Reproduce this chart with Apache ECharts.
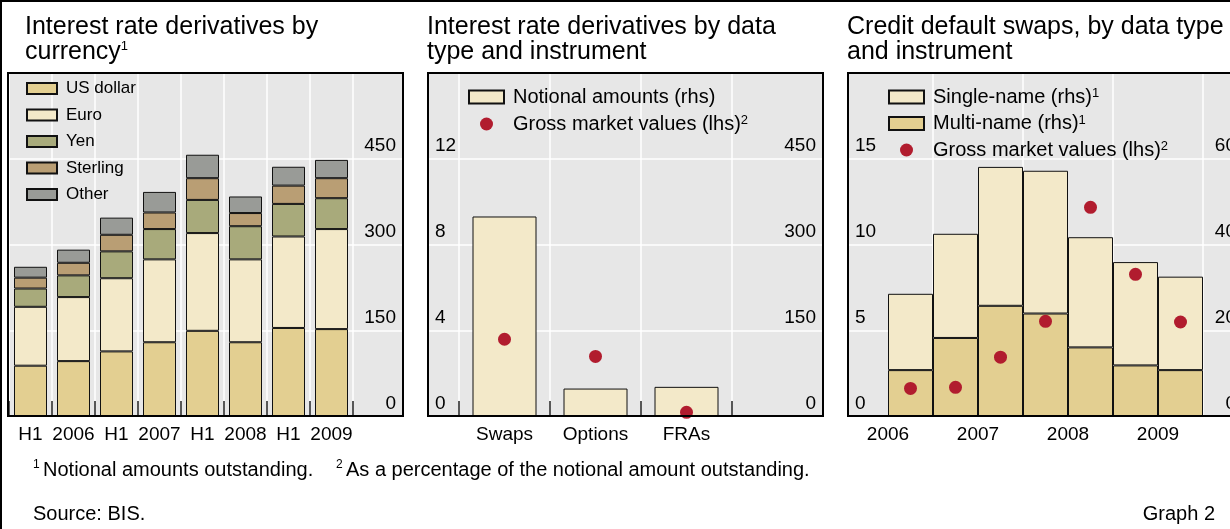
<!DOCTYPE html>
<html><head><meta charset="utf-8">
<script src="https://cdn.jsdelivr.net/npm/echarts@6/dist/echarts.min.js"></script>
<style>html,body{margin:0;padding:0;background:#fff}#c{width:1230px;height:529px}</style>
</head><body><div id="c"></div>
<script>
// ---- Panel A: interest rate derivatives by currency (notional, USD trn)
var catsA = ['H1 2006','H2 2006','H1 2007','H2 2007','H1 2008','H2 2008','H1 2009','H2 2009'];
var tickLabelsA = ['H1','2006','H1','2007','H1','2008','H1','2009'];
var usd      = [88, 96, 113, 129, 149, 129, 154, 152];
var euro     = [103, 112, 128, 145, 171, 145, 160, 175];
var yen      = [32, 38, 47, 53, 58, 58, 57, 54];
var sterling = [19, 22, 29, 29, 38, 23, 32, 35];
var other    = [19, 23, 30, 36, 41, 29, 33, 32];

// ---- Panel B: interest rate derivatives by data type and instrument
var catsB = ['Swaps','Options','FRAs'];
var notionalB = [349, 48, 51];
var gmvB = [3.58, 2.78, 0.17];

// ---- Panel C: credit default swaps
var catsC = ['H2 2006','H1 2007','H2 2007','H1 2008','H2 2008','H1 2009','H2 2009'];
var yearLabelsC = ['2006','','2007','','2008','','2009',''];
var multiC  = [10.7, 18.2, 25.7, 23.9, 16.0, 11.8, 10.7];
var singleC = [17.8, 24.3, 32.4, 33.3, 25.7, 24.1, 21.8];
var gmvC    = [1.61, 1.67, 3.43, 5.52, 12.17, 8.26, 5.48];

var FONT = 'Liberation Sans, Arial, sans-serif';
var BG = '#e7e7e7';
var C_USD = '#e3cf91', C_EUR = '#f3e9c9', C_YEN = '#a8aa7b', C_GBP = '#b99e74', C_OTH = '#999b97';
var RED = '#b11c2e';
var TICK = 19, TITLE = 25, FOOT = 20;

function frameGrid(left){ return {left:left, top:73, width:395, height:343, show:true, backgroundColor:BG, borderWidth:0, containLabel:false, outerBoundsMode:'none'}; }
function dataGrid(left,width){ return {left:left, top:73, width:width, height:343, show:false, containLabel:false, outerBoundsMode:'none'}; }
function hiddenX(g){ return {type:'value', gridIndex:g, show:false}; }
function labY(g, pos, max, itv, split){
  return {type:'value', gridIndex:g, position:pos, min:0, max:max, interval:itv,
    axisLine:{show:false}, axisTick:{show:false},
    splitLine:{show:split, lineStyle:{color:'#fff', width:1.5}},
    axisLabel:{inside:true, margin:7, color:'#000', fontFamily:FONT, fontSize:TICK, verticalAlign:'bottom', padding:[0,0,3,0],
      formatter:function(v){ return v>=max ? '' : String(v); }}};
}
function hidY(g, max){ return {type:'value', gridIndex:g, min:0, max:max, show:false}; }
function catX(g, data, labels, opts){
  var o = {type:'category', gridIndex:g, data:data, position:'bottom',
    axisLine:{show:false},
    axisTick:{show:true, inside:true, length:15, interval:0, lineStyle:{color:'#222', width:1.5}},
    splitLine:{show:true, interval:0, lineStyle:{color:'#fff', width:1.5}},
    axisLabel:{interval:0, margin:9, color:'#000', fontFamily:FONT, fontSize:TICK,
      formatter:function(v,i){ return labels ? labels[i] : v; }}};
  if (opts) for (var k in opts) o[k]=opts[k];
  return o;
}
function richLeg(size, lh, sup){
  return {t:{fontFamily:FONT, fontSize:size, color:'#000', lineHeight:lh, padding:[0,0,0,4]},
          s:{fontFamily:FONT, fontSize:sup, color:'#000', verticalAlign:'top', lineHeight:sup}};
}
function legFmt(sup){ return function(n){ var d=n.trim(); return sup[d] ? '{t|'+d+'}{s|'+sup[d]+'}' : '{t|'+d+'}'; }; }
var barBorder = {borderColor:'#111', borderWidth:1};
var richTitle = {t:{fontFamily:FONT,fontSize:TITLE,fontWeight:'normal',lineHeight:25,color:'#000'},
                 s:{fontFamily:FONT,fontSize:13,fontWeight:'normal',verticalAlign:'top',lineHeight:15,color:'#000'}};
function frameRect(left){ return {type:'rect', silent:true, z:100, shape:{x:left, y:73, width:395, height:343}, style:{fill:'none', stroke:'#000', lineWidth:2}}; }
var richFoot = {t:{fontFamily:FONT,fontSize:FOOT,lineHeight:22,fill:'#000'}, s:{fontFamily:FONT,fontSize:12,verticalAlign:'top',lineHeight:13,fill:'#000'}};

var option = {
  animation:false,
  textStyle:{fontFamily:FONT},
  title:[
    {left:25, top:15, padding:0, text:'{t|Interest rate derivatives by}\n{t|currency}{s|1}', textStyle:{fontWeight:'normal', rich:richTitle}},
    {left:427, top:15, padding:0, text:'{t|Interest rate derivatives by data}\n{t|type and instrument}', textStyle:{fontWeight:'normal', rich:richTitle}},
    {left:847, top:15, padding:0, text:'{t|Credit default swaps, by data type}\n{t|and instrument}', textStyle:{fontWeight:'normal', rich:richTitle}}
  ],
  grid:[frameGrid(8), dataGrid(9,344), frameGrid(428), dataGrid(459,273), frameGrid(848), dataGrid(888,315)],
  xAxis:[
    hiddenX(0),
    catX(1, catsA, tickLabelsA),
    hiddenX(2),
    catX(3, catsB, null),
    hiddenX(4),
    {type:'category', gridIndex:5, data:catsC, show:false},
    catX(5, yearLabelsC, null, {boundaryGap:false,
      axisTick:{show:false},
      splitLine:{show:true, interval:function(i){ return i%2===1; }, lineStyle:{color:'#fff', width:1.5}}})
  ],
  yAxis:[
    labY(0,'right',600,150,true),
    hidY(1,600),
    labY(2,'right',600,150,true),
    labY(2,'left',16,4,false),
    hidY(3,600),
    hidY(3,16),
    labY(4,'right',80,20,true),
    labY(4,'left',20,5,false),
    hidY(5,80),
    hidY(5,20)
  ],
  legend:[
    {left:26, top:80, padding:0, orient:'vertical', itemWidth:30, itemHeight:11, itemGap:9.5, icon:'rect',
      data:['US dollar','Euro','Yen','Sterling','Other'], selectedMode:false,
      formatter:legFmt({}), textStyle:{rich:richLeg(17,18,11)}},
    {left:468, top:87, padding:0, orient:'vertical', itemWidth:35, itemHeight:13, itemGap:7, selectedMode:false,
      data:[{name:'Notional amounts (rhs)', icon:'rect'},{name:'Gross market values (lhs)', icon:'circle'}],
      formatter:legFmt({'Gross market values (lhs)':'2'}), textStyle:{rich:richLeg(20,20,13)}},
    {left:888, top:87, padding:0, orient:'vertical', itemWidth:35, itemHeight:13, itemGap:6.5, selectedMode:false,
      data:[{name:'Single-name (rhs)', icon:'rect'},{name:'Multi-name (rhs)', icon:'rect'},{name:'Gross market values (lhs) ', icon:'circle'}],
      formatter:legFmt({'Single-name (rhs)':'1','Multi-name (rhs)':'1','Gross market values (lhs)':'2'}), textStyle:{rich:richLeg(20,20,13)}}
  ],
  series:[
    {name:'US dollar', type:'bar', stack:'a', xAxisIndex:1, yAxisIndex:1, barWidth:33, data:usd, itemStyle:Object.assign({color:C_USD},barBorder)},
    {name:'Euro', type:'bar', stack:'a', xAxisIndex:1, yAxisIndex:1, barWidth:33, data:euro, itemStyle:Object.assign({color:C_EUR},barBorder)},
    {name:'Yen', type:'bar', stack:'a', xAxisIndex:1, yAxisIndex:1, barWidth:33, data:yen, itemStyle:Object.assign({color:C_YEN},barBorder)},
    {name:'Sterling', type:'bar', stack:'a', xAxisIndex:1, yAxisIndex:1, barWidth:33, data:sterling, itemStyle:Object.assign({color:C_GBP},barBorder)},
    {name:'Other', type:'bar', stack:'a', xAxisIndex:1, yAxisIndex:1, barWidth:33, data:other, itemStyle:Object.assign({color:C_OTH},barBorder)},

    {name:'Notional amounts (rhs)', type:'bar', xAxisIndex:3, yAxisIndex:4, barWidth:64, data:notionalB, itemStyle:Object.assign({color:C_EUR},barBorder)},
    {name:'Gross market values (lhs)', type:'scatter', xAxisIndex:3, yAxisIndex:5, symbolSize:13, data:gmvB, itemStyle:{color:RED, opacity:1}},

    {name:'Multi-name (rhs)', type:'bar', stack:'c', xAxisIndex:5, yAxisIndex:8, barWidth:'100%', data:multiC, itemStyle:Object.assign({color:C_USD},barBorder)},
    {name:'Single-name (rhs)', type:'bar', stack:'c', xAxisIndex:5, yAxisIndex:8, barWidth:'100%', data:singleC, itemStyle:Object.assign({color:C_EUR},barBorder)},
    {name:'Gross market values (lhs) ', type:'scatter', xAxisIndex:5, yAxisIndex:9, symbolSize:13, data:gmvC, itemStyle:{color:RED, opacity:1}}
  ],
  graphic:[
    {type:'rect', silent:true, z:100, shape:{x:1, y:1, width:1300, height:600}, style:{fill:'none', stroke:'#000', lineWidth:2}},
    frameRect(8), frameRect(428), frameRect(848),
    {type:'text', x:33, y:470, style:{text:'{s|1} {t|Notional amounts outstanding.}', verticalAlign:'middle', fill:'#000', rich:richFoot}},
    {type:'text', x:336, y:470, style:{text:'{s|2} {t|As a percentage of the notional amount outstanding.}', verticalAlign:'middle', fill:'#000', rich:richFoot}},
    {type:'text', x:33, y:514, style:{text:'Source: BIS.', verticalAlign:'middle', fill:'#000', font:FOOT+'px '+FONT}},
    {type:'text', x:1215, y:514, style:{text:'Graph 2', align:'right', verticalAlign:'middle', fill:'#000', font:FOOT+'px '+FONT}}
  ]
};
var chart = echarts.init(document.getElementById('c'), null, {renderer:'canvas'});
chart.setOption(option);
</script></body></html>
